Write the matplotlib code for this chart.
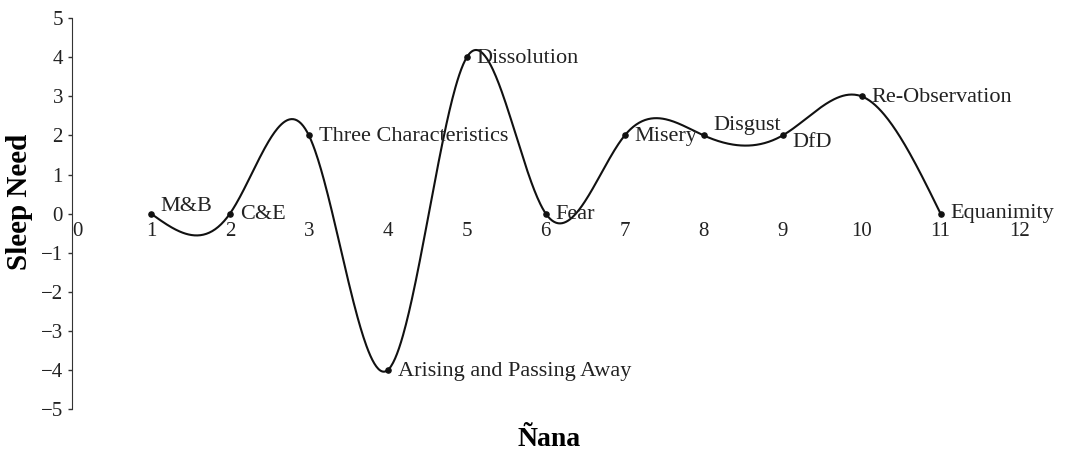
import numpy as np
import matplotlib.pyplot as plt

plt.rcParams["font.family"] = ["Liberation Serif", "DejaVu Serif"]

stages = [1, 2, 3, 4, 5, 6, 7, 8, 9, 10, 11]
sleep_need = [0, 0, 2, -4, 4, 0, 2, 2, 2, 3, 0]
stage_names = ["M&B", "C&E", "Three Characteristics", "Arising and Passing Away",
               "Dissolution", "Fear", "Misery", "Disgust", "DfD", "Re-Observation",
               "Equanimity"]
x_ticks = list(range(0, 13))
y_ticks = list(range(-5, 6))


def natural_spline(x, y, n=800):
    x = np.asarray(x, float)
    y = np.asarray(y, float)
    k = len(x)
    h = np.diff(x)
    A = np.zeros((k, k))
    b = np.zeros(k)
    A[0, 0] = A[-1, -1] = 1
    for i in range(1, k - 1):
        A[i, i - 1] = h[i - 1]
        A[i, i] = 2 * (h[i - 1] + h[i])
        A[i, i + 1] = h[i]
        b[i] = 3 * ((y[i + 1] - y[i]) / h[i] - (y[i] - y[i - 1]) / h[i - 1])
    c = np.linalg.solve(A, b)
    xs = np.linspace(x[0], x[-1], n)
    ys = np.empty_like(xs)
    for j, xv in enumerate(xs):
        i = min(np.searchsorted(x, xv, side="right") - 1, k - 2)
        d = xv - x[i]
        bb = (y[i + 1] - y[i]) / h[i] - h[i] * (2 * c[i] + c[i + 1]) / 3
        dd = (c[i + 1] - c[i]) / (3 * h[i])
        ys[j] = y[i] + bb * d + c[i] * d ** 2 + dd * d ** 3
    return xs, ys


fig = plt.figure(figsize=(10.67, 4.54), dpi=100)
ax = fig.add_axes([0.0675, 0.099, 0.925, 0.861])

xs, ys = natural_spline(stages, sleep_need)
ax.plot(xs, ys, color="#111111", lw=1.5)
ax.scatter(stages, sleep_need, s=14, color="#111111", zorder=3)

nudge = {"M&B": 5, "Disgust": 7, "DfD": -5, "Equanimity": 0}
for x, y, name in zip(stages, sleep_need, stage_names):
    ax.annotate(name, (x, y), xytext=(7, nudge.get(name, -1)), textcoords="offset points",
                ha="left", va="center", fontsize=16, color="#222222")

ax.set_xlim(0, 12.5)
ax.set_ylim(-5, 5)
ax.set_xticks(x_ticks)
ax.set_yticks(y_ticks)
ax.set_yticklabels([str(v).replace("-", "\u2212") for v in y_ticks])
ax.spines["bottom"].set_position(("data", 0))
ax.spines["bottom"].set_visible(False)
ax.spines["top"].set_visible(False)
ax.spines["right"].set_visible(False)
ax.spines["left"].set_color("#333333")
ax.tick_params(axis="x", length=0, pad=6, labelsize=15, labelcolor="#222222")
ax.tick_params(axis="y", length=3, width=1, direction="out", labelsize=15,
               labelcolor="#222222", color="#333333")
for lab in ax.get_xticklabels():
    if lab.get_text() == "0":
        lab.set_horizontalalignment("left")

ax.set_ylabel("Sleep Need", fontsize=21, fontweight="bold")
ax.yaxis.set_label_coords(-0.04, 0.53)
fig.text(0.515, 0.005, "Ñana", ha="center", va="bottom", fontsize=20, fontweight="bold")

fig.savefig("out.png", dpi=100)
